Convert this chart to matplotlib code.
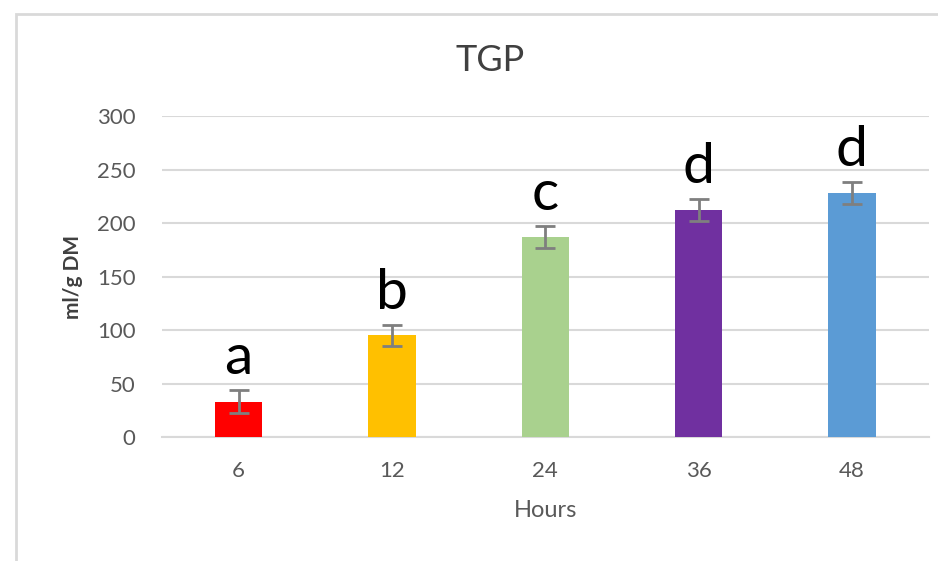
import numpy as np
import matplotlib.pyplot as plt
from matplotlib.patches import Rectangle

# dados
horas = ['6', '12', '24', '36', '48']
tgp_media = [33, 95, 187, 212, 228]
tgp_erro = [11, 10, 10, 10, 10]
letras = ['a', 'b', 'c', 'd', 'd']
cores = ['#FF0000', '#FFC000', '#A9D18E', '#7030A0', '#5B9BD5']

plt.rcParams['font.family'] = ['Lato', 'DejaVu Sans']

fig = plt.figure(figsize=(9.38, 5.61), dpi=100)
ax = fig.add_axes([0.1727, 0.221, 0.8173, 0.5722])

# moldura do gráfico
fig.patches.append(Rectangle((16 / 938, -0.1), 1.2, 1 - 14 / 561 + 0.1,
                             transform=fig.transFigure, fill=False,
                             edgecolor='#d9d9d9', linewidth=2))

x = np.arange(len(horas))
ax.bar(x, tgp_media, width=0.31, color=cores, zorder=3)
ax.errorbar(x, tgp_media, yerr=tgp_erro, fmt='none', ecolor='#7f7f7f',
            elinewidth=2, capsize=7, capthick=2, zorder=4)

for xi, m, e, l in zip(x, tgp_media, tgp_erro, letras):
    ax.text(xi, m + e + 15, l, ha='center', va='baseline', fontsize=41,
            color='black', zorder=5)

ax.set_xlim(-0.5, len(horas) - 0.5)
ax.set_ylim(0, 300)
ax.set_yticks(range(0, 301, 50))
ax.set_xticks(x)
ax.set_xticklabels(horas)
ax.yaxis.grid(True, color='#d9d9d9', linewidth=1.5, zorder=0)
ax.set_axisbelow(True)

for lado in ['top', 'right', 'left']:
    ax.spines[lado].set_visible(False)
ax.spines['bottom'].set_color('#d9d9d9')
ax.spines['bottom'].set_linewidth(1.5)

ax.tick_params(axis='both', length=0, labelsize=16, labelcolor='#595959')
ax.tick_params(axis='y', pad=19)
ax.tick_params(axis='x', pad=17)

ax.set_xlabel('Hours', fontsize=17, color='#595959', labelpad=14)
ax.set_ylabel('ml/g DM', fontsize=15, fontweight='bold', color='#404040', labelpad=10)

fig.text(0.522, 0.893, 'TGP', ha='center', va='center', fontsize=26, color='#404040')

plt.savefig('out.png', dpi=100)
